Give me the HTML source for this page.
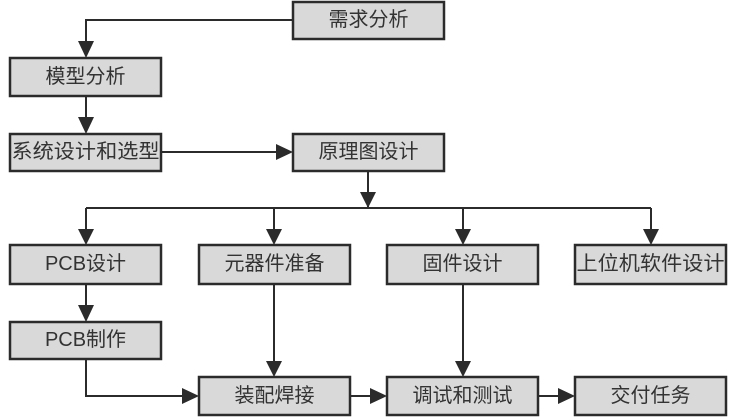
<!DOCTYPE html>
<html><head><meta charset="utf-8"><style>
html,body{margin:0;padding:0;background:#fff;}
svg{display:block;}
text{font-family:"Liberation Sans","Noto Sans CJK SC",sans-serif;font-size:20px;fill:#333;text-anchor:middle;dominant-baseline:central;}
rect{fill:#d9d9d9;stroke:#2b2b2b;stroke-width:2.5;}
line,polyline{stroke:#2b2b2b;stroke-width:2;fill:none;}
polygon{fill:#2b2b2b;}
</style></head><body>
<svg width="737" height="417" viewBox="0 0 737 417">
<!-- connectors -->
<polyline points="293,20 86,20 86,42"/>
<polygon points="78,41 94,41 86,58"/>
<line x1="86" y1="96" x2="86" y2="118"/>
<polygon points="78,117 94,117 86,134"/>
<line x1="161" y1="152" x2="277" y2="152"/>
<polygon points="276,144 276,160 293,152"/>
<line x1="368" y1="171" x2="368" y2="208"/>
<polygon points="360,192 376,192 368,208"/>
<line x1="86" y1="208" x2="651" y2="208"/>
<line x1="86" y1="208" x2="86" y2="230"/><polygon points="78,229 94,229 86,245"/>
<line x1="274" y1="208" x2="274" y2="230"/><polygon points="266,229 282,229 274,245"/>
<line x1="463" y1="208" x2="463" y2="230"/><polygon points="455,229 471,229 463,245"/>
<line x1="651" y1="208" x2="651" y2="230"/><polygon points="643,229 659,229 651,245"/>
<line x1="86" y1="284" x2="86" y2="306"/><polygon points="78,305 94,305 86,322"/>
<line x1="274" y1="284" x2="274" y2="362"/><polygon points="266,361 282,361 274,377"/>
<line x1="463" y1="284" x2="463" y2="362"/><polygon points="455,361 471,361 463,377"/>
<polyline points="86,359 86,396 183,396"/><polygon points="182,388 182,404 199,396"/>
<line x1="350" y1="396" x2="371" y2="396"/><polygon points="370,388 370,404 387,396"/>
<line x1="538" y1="396" x2="559" y2="396"/><polygon points="558,388 558,404 575,396"/>
<!-- boxes -->
<rect x="293" y="2" width="151" height="37"/><text x="368.5" y="20">需求分析</text>
<rect x="10" y="58" width="151" height="38"/><text x="85.5" y="77">模型分析</text>
<rect x="10" y="134" width="151" height="37"/><text x="85.5" y="152" textLength="148" lengthAdjust="spacingAndGlyphs">系统设计和选型</text>
<rect x="293" y="134" width="151" height="37"/><text x="368.5" y="152">原理图设计</text>
<rect x="10" y="245" width="151" height="39"/><text x="85.5" y="264">PCB设计</text>
<rect x="199" y="245" width="151" height="39"/><text x="274.5" y="264">元器件准备</text>
<rect x="387" y="245" width="151" height="39"/><text x="462.5" y="264">固件设计</text>
<rect x="575" y="245" width="151" height="39"/><text x="650.5" y="264" textLength="148" lengthAdjust="spacingAndGlyphs">上位机软件设计</text>
<rect x="10" y="322" width="151" height="37"/><text x="85.5" y="340">PCB制作</text>
<rect x="199" y="377" width="151" height="38"/><text x="274.5" y="396">装配焊接</text>
<rect x="387" y="377" width="151" height="38"/><text x="462.5" y="396">调试和测试</text>
<rect x="575" y="377" width="151" height="38"/><text x="650.5" y="396">交付任务</text>
</svg>
</body></html>
